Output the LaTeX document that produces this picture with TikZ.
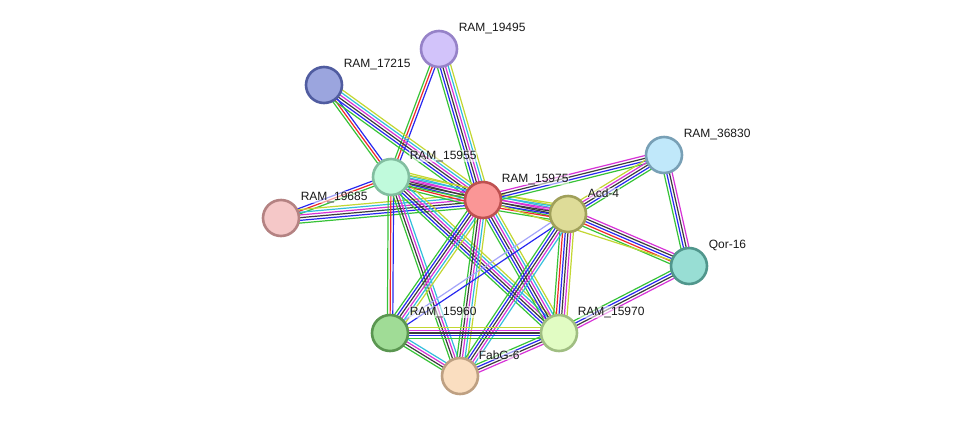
\documentclass[tikz,border=0pt]{standalone}
\usepackage{fontspec}
\setmainfont{Liberation Sans}
\usetikzlibrary{calc}
\pgfdeclarelayer{bg}
\pgfsetlayers{bg,main}
\definecolor{cgreen}{RGB}{55,195,55}
\definecolor{cred}{RGB}{240,40,40}
\definecolor{cblue}{RGB}{40,40,240}
\definecolor{cblack}{RGB}{60,60,60}
\definecolor{cmag}{RGB}{215,50,215}
\definecolor{ccyan}{RGB}{50,190,220}
\definecolor{cyel}{RGB}{195,215,50}
\definecolor{clav}{RGB}{165,165,250}
\newcommand{\edgebundle}[4][2.7]{%
  \foreach \c [count=\i] in {#4} {\xdef\nbund{\i}}%
  \foreach \c [count=\i] in {#4} {%
    \pgfmathsetmacro\off{(\i-(\nbund+1)/2)*#1}%
    \draw[\c, edgeline] ($(#2)!\off pt!90:(#3)$) -- ($(#3)!\off pt!-90:(#2)$);%
  }%
}
\begin{document}
\begin{tikzpicture}[x=1pt,y=-1pt,
  prot/.style={circle, line width=2.6pt, minimum size=36pt, inner sep=0pt},
  edgeline/.style={line width=1.2pt, line cap=butt},
  lab/.style={anchor=west, font=\fontsize{12}{14}\selectfont, text=black!90,
    fill=white, fill opacity=0.55, text opacity=1, inner sep=0.6pt}]
\useasboundingbox (0,0) rectangle (976,421);
% proteins
\node[prot, fill={rgb,255:red,210;green,195;blue,250}, draw={rgb,255:red,150;green,130;blue,200}] (n19495) at (439,49) {};
\node[prot, fill={rgb,255:red,155;green,165;blue,222}, draw={rgb,255:red,80;green,92;blue,160}] (n17215) at (324,85) {};
\node[prot, fill={rgb,255:red,192;green,250;blue,220}, draw={rgb,255:red,130;green,190;blue,160}] (n15955) at (391,177) {};
\node[prot, fill={rgb,255:red,245;green,200;blue,200}, draw={rgb,255:red,180;green,130;blue,130}] (n19685) at (281,218) {};
\node[prot, fill={rgb,255:red,250;green,150;blue,150}, draw={rgb,255:red,190;green,80;blue,80}] (n15975) at (483,200) {};
\node[prot, fill={rgb,255:red,222;green,220;blue,152}, draw={rgb,255:red,160;green,160;blue,90}] (acd4) at (568,214) {};
\node[prot, fill={rgb,255:red,192;green,232;blue,250}, draw={rgb,255:red,120;green,160;blue,182}] (n36830) at (664,155) {};
\node[prot, fill={rgb,255:red,152;green,222;blue,212}, draw={rgb,255:red,80;green,150;blue,140}] (qor16) at (689,266) {};
\node[prot, fill={rgb,255:red,160;green,220;blue,150}, draw={rgb,255:red,90;green,150;blue,80}] (n15960) at (390,333) {};
\node[prot, fill={rgb,255:red,225;green,252;blue,195}, draw={rgb,255:red,160;green,190;blue,130}] (n15970) at (559,333) {};
\node[prot, fill={rgb,255:red,250;green,222;blue,192}, draw={rgb,255:red,190;green,160;blue,130}] (fabg6) at (460,376) {};
% edges
\begin{pgfonlayer}{bg}
\fill[white] (0,0) rectangle (976,421);
\edgebundle{n19495}{n15975}{cgreen,cblue,cblack,cmag,ccyan,cyel}
\edgebundle{n19495}{n15955}{cgreen,cred,cblue}
\edgebundle{n17215}{n15955}{cgreen,cred,cblue}
\edgebundle{n17215}{n15975}{cgreen,cblue,cblack,cmag,ccyan,cyel}
\edgebundle{n19685}{n15955}{cgreen,cred,cblue}
\edgebundle{n19685}{n15975}{cgreen,cblue,cblack,cmag,ccyan,cyel}
\edgebundle{n15955}{n15975}{cgreen,cred,cblue,cblack,cmag,ccyan,cyel}
\edgebundle{n15955}{n15960}{cgreen,cred,cblue}
\edgebundle{n15955}{fabg6}{cgreen,cblack,cmag,ccyan}
\edgebundle{n15955}{n15970}{cgreen,cblue,cblack,cmag,ccyan,cyel}
\edgebundle{n15955}{acd4}{cgreen,cblack,cmag,ccyan,cyel}
\edgebundle{n15975}{acd4}{cgreen,cred,cblue,cblack,cmag,ccyan,cyel}
\edgebundle{n15975}{n36830}{cgreen,cblue,cblack,cmag}
\edgebundle{acd4}{n36830}{cgreen,cblue,cblack,cmag,cyel}
\edgebundle{n36830}{qor16}{cgreen,cblue,cblack,cmag}
\edgebundle{acd4}{qor16}{cgreen,cred,cblue,cblack,cmag}
\edgebundle{n15975}{qor16}{cyel}
\edgebundle{qor16}{n15970}{cgreen,cblue,cblack,cmag}
\edgebundle{n15975}{n15960}{cgreen,cblue,cblack,cmag,ccyan,cyel}
\edgebundle{n15975}{n15970}{cgreen,cblue,cblack,cmag,ccyan,cyel}
\edgebundle{n15975}{fabg6}{cgreen,cblack,cmag,ccyan,cyel}
\edgebundle[5]{acd4}{n15960}{clav,cblue}
\edgebundle{acd4}{n15970}{cgreen,cred,cblue,cblack,cmag,cyel}
\edgebundle{acd4}{fabg6}{cgreen,cblue,cblack,cmag,ccyan}
\edgebundle{n15960}{n15970}{cgreen,cblue,cblack,cmag,cyel}
\edgebundle{n15960}{fabg6}{cgreen,cblack,cmag,ccyan}
\edgebundle{n15970}{fabg6}{cgreen,cblue,cblack,cmag}
\end{pgfonlayer}
% labels
\node[lab] (l19495) at ($(n19495)+(19,-21)$) {RAM\_19495};
\node[lab] (l17215) at ($(n17215)+(19,-21)$) {RAM\_17215};
\node[lab] (l15955) at ($(n15955)+(18,-21)$) {RAM\_15955};
\node[lab] (l19685) at ($(n19685)+(19,-21)$) {RAM\_19685};
\node[lab] (l15975) at ($(n15975)+(18,-21)$) {RAM\_15975};
\node[lab] (lacd4) at ($(acd4)+(19,-21)$) {Acd-4};
\node[lab] (l36830) at ($(n36830)+(19,-21)$) {RAM\_36830};
\node[lab] (lqor16) at ($(qor16)+(19,-21)$) {Qor-16};
\node[lab] (l15960) at ($(n15960)+(19,-21)$) {RAM\_15960};
\node[lab] (l15970) at ($(n15970)+(18,-21)$) {RAM\_15970};
\node[lab] (lfabg6) at ($(fabg6)+(18,-21)$) {FabG-6};
\end{tikzpicture}
\end{document}
